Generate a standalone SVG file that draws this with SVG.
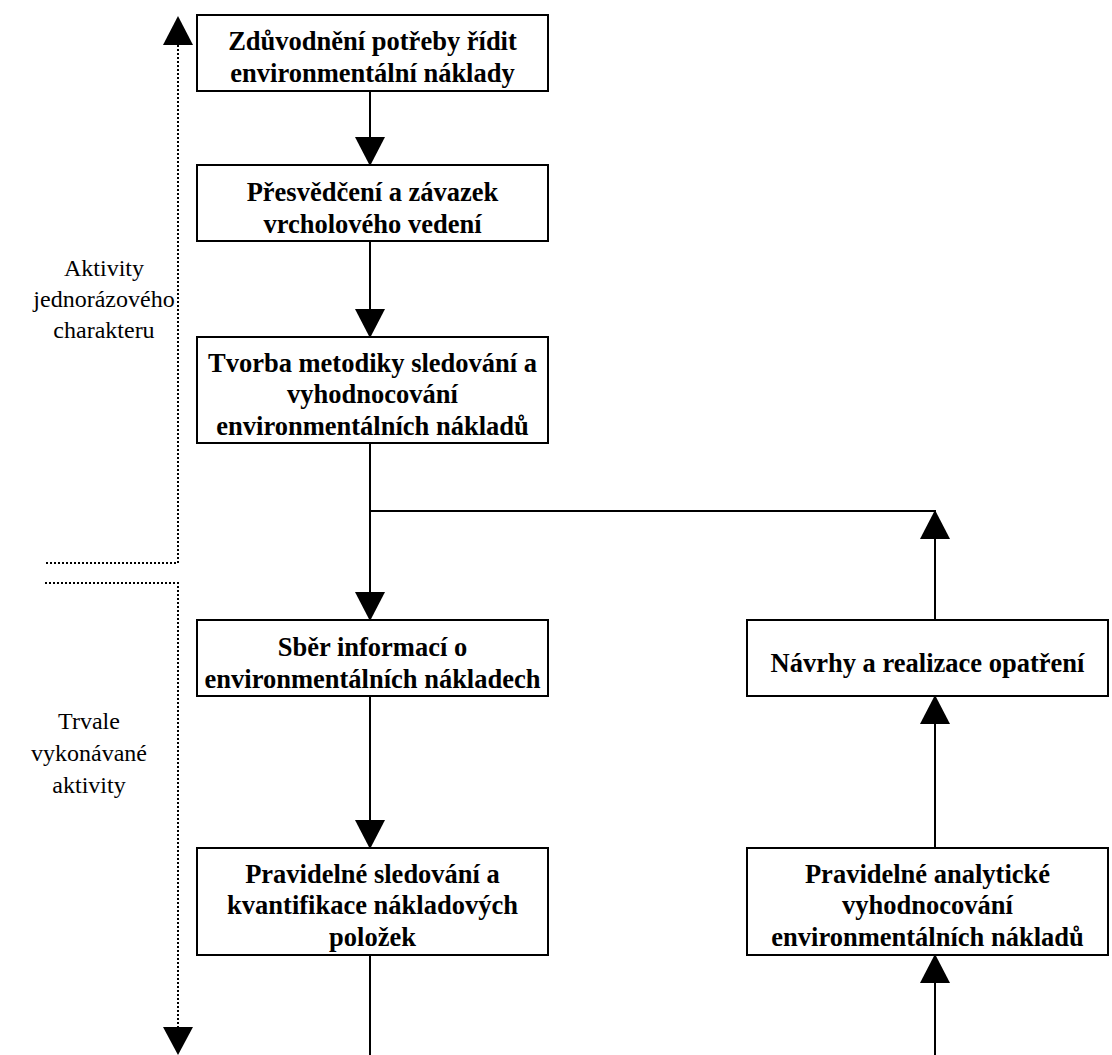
<svg xmlns="http://www.w3.org/2000/svg" width="1112" height="1055" viewBox="0 0 1112 1055">
  <style>
    .box { fill: #ffffff; stroke: #000000; stroke-width: 2; }
    .label { font-family: "Liberation Serif", "Times New Roman", serif; font-weight: bold; font-size: 26.5px; fill: #000000; text-anchor: middle; }
    .side { font-family: "Liberation Serif", "Times New Roman", serif; font-size: 24px; fill: #000000; text-anchor: middle; }
    .conn { fill: none; stroke: #000000; stroke-width: 2; }
    .dots { fill: none; stroke: #000000; stroke-width: 2; stroke-dasharray: 2 2; }
    .head { fill: #000000; }
  </style>
  <defs>
    <marker id="arrow" viewBox="0 0 29 30" refX="28" refY="15" markerWidth="29" markerHeight="30" markerUnits="userSpaceOnUse" orient="auto">
      <path d="M0,0 L29,15 L0,30 Z" fill="#000000"/>
    </marker>
  </defs>
  <rect width="1112" height="1055" fill="#ffffff"/>

  <!-- phase brackets on the left -->
  <g id="phase-once">
    <path class="dots" d="M178,45 V563 H45"/>
    <polygon class="head" points="163,45 193,45 178,16"/>
    <text class="side" x="104" y="276">Aktivity</text>
    <text class="side" x="104" y="307">jednorázového</text>
    <text class="side" x="104" y="338">charakteru</text>
  </g>
  <g id="phase-continuous">
    <path class="dots" d="M45,583 H178 V1027"/>
    <polygon class="head" points="163,1027 193,1027 178,1055"/>
    <text class="side" x="89" y="729">Trvale</text>
    <text class="side" x="89" y="761">vykonávané</text>
    <text class="side" x="89" y="793">aktivity</text>
  </g>

  <!-- connectors -->
  <g id="connectors">
    <line class="conn" x1="370" y1="91" x2="370" y2="165" marker-end="url(#arrow)"/>
    <line class="conn" x1="370" y1="241" x2="370" y2="337" marker-end="url(#arrow)"/>
    <line class="conn" x1="370" y1="443" x2="370" y2="620" marker-end="url(#arrow)"/>
    <line class="conn" x1="370" y1="511" x2="936" y2="511"/>
    <line class="conn" x1="935" y1="620" x2="935" y2="511" marker-end="url(#arrow)"/>
    <line class="conn" x1="370" y1="696" x2="370" y2="848" marker-end="url(#arrow)"/>
    <line class="conn" x1="935" y1="848" x2="935" y2="696" marker-end="url(#arrow)"/>
    <line class="conn" x1="370" y1="955" x2="370" y2="1055"/>
    <line class="conn" x1="935" y1="1055" x2="935" y2="955" marker-end="url(#arrow)"/>
  </g>

  <!-- process steps -->
  <g id="node-zduvodneni">
    <rect class="box" x="197" y="15" width="351" height="76"/>
    <text class="label" x="372.5" y="50">Zdůvodnění potřeby řídit</text>
    <text class="label" x="372.5" y="82">environmentální náklady</text>
  </g>
  <g id="node-presvedceni">
    <rect class="box" x="197" y="165" width="351" height="76"/>
    <text class="label" x="372.5" y="201">Přesvědčení a závazek</text>
    <text class="label" x="372.5" y="233">vrcholového vedení</text>
  </g>
  <g id="node-tvorba">
    <rect class="box" x="197" y="337" width="351" height="106"/>
    <text class="label" x="372.5" y="372">Tvorba metodiky sledování a</text>
    <text class="label" x="372.5" y="403">vyhodnocování</text>
    <text class="label" x="372.5" y="435">environmentálních nákladů</text>
  </g>
  <g id="node-sber">
    <rect class="box" x="197" y="620" width="351" height="76"/>
    <text class="label" x="372.5" y="656">Sběr informací o</text>
    <text class="label" x="372.5" y="688">environmentálních nákladech</text>
  </g>
  <g id="node-navrhy">
    <rect class="box" x="747" y="620" width="361" height="76"/>
    <text class="label" x="927.5" y="672">Návrhy a realizace opatření</text>
  </g>
  <g id="node-sledovani">
    <rect class="box" x="197" y="848" width="351" height="107"/>
    <text class="label" x="372.5" y="883">Pravidelné sledování a</text>
    <text class="label" x="372.5" y="914">kvantifikace nákladových</text>
    <text class="label" x="372.5" y="946">položek</text>
  </g>
  <g id="node-analyza">
    <rect class="box" x="747" y="848" width="361" height="107"/>
    <text class="label" x="927.5" y="883">Pravidelné analytické</text>
    <text class="label" x="927.5" y="914">vyhodnocování</text>
    <text class="label" x="927.5" y="946">environmentálních nákladů</text>
  </g>
</svg>
